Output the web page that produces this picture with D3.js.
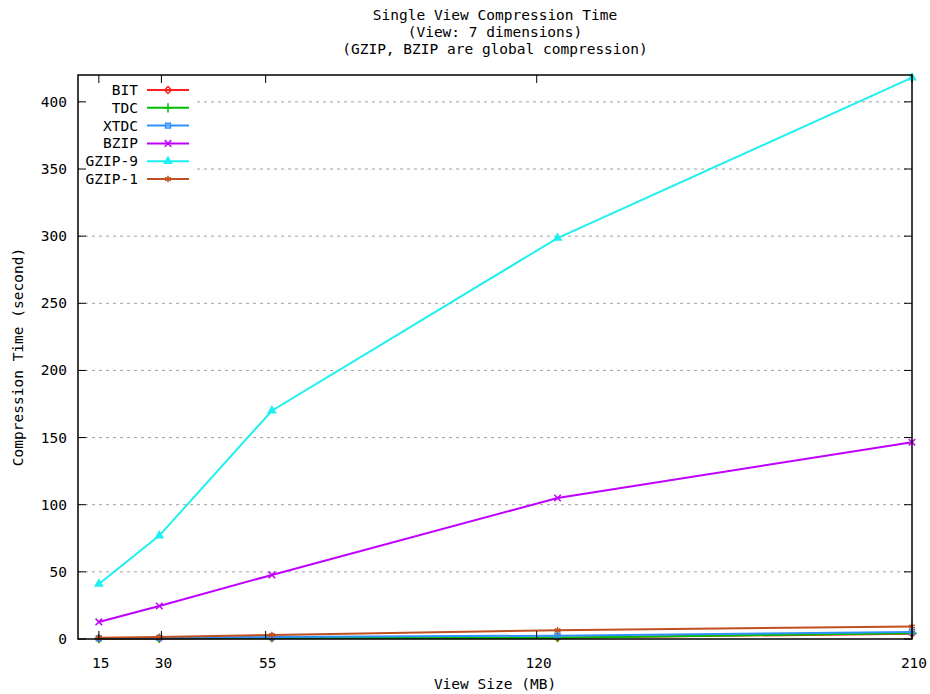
<!DOCTYPE html>
<html>
<head>
<meta charset="utf-8">
<script src="https://cdn.jsdelivr.net/npm/d3@7"></script>
<style>
  body { margin: 0; background: #fff; }
  svg text { font-family: "DejaVu Sans Mono", monospace; font-size: 14.5px; fill: #000; }
  .grid line { stroke: #a0a0a0; stroke-dasharray: 3,4; }
</style>
</head>
<body>
<div id="chart"></div>
<script>
// view sizes (MB) where each run was measured
const sizes = [15, 29.5, 56.5, 125, 210]
const xTicks = [15, 30, 55, 120, 210]
const yTicks = [0, 50, 100, 150, 200, 250, 300, 350, 400]

const bit = [0.2, 0.4, 0.8, 0.9, 4.0]
const tdc = [0.3, 0.5, 1.0, 1.0, 4.3]
const xtdc = [0.5, 0.8, 1.5, 2.5, 5.2]
const bzip = [12.7, 24.6, 47.7, 105, 146.5]
const gzip9 = [41, 77, 170, 298.6, 418]
const gzip1 = [1.0, 1.5, 3.0, 6.5, 9.3]

const seriesNames = ['BIT', 'TDC', 'XTDC', 'BZIP', 'GZIP-9', 'GZIP-1']
const seriesValues = [bit, tdc, xtdc, bzip, gzip9, gzip1]
const seriesColors = ['#ff2020', '#00c000', '#3090ff', '#c000ff', '#20f0f0', '#c05020']
const seriesSymbols = [d3.symbolDiamond2, d3.symbolPlus, d3.symbolSquare2, d3.symbolTimes, d3.symbolTriangle, d3.symbolAsterisk]
const filledSymbols = [false, false, false, false, true, false]

const titleLines = ['Single View Compression Time', '(View: 7 dimensions)', '(GZIP, BZIP are global compression)']

const W = 930, H = 694
const margin = {top: 75, right: 18, bottom: 55, left: 78}
const width = W - margin.left - margin.right
const height = H - margin.top - margin.bottom

const svg = d3.select('#chart').append('svg')
  .attr('width', W).attr('height', H)

const g = svg.append('g')
  .attr('transform', 'translate(' + margin.left + ',' + margin.top + ')')

const x = d3.scaleLinear().domain([10, 210]).range([0, width])
const y = d3.scaleLinear().domain([0, 420]).range([height, 0])

// horizontal dotted grid
g.append('g').attr('class', 'grid')
  .selectAll('line')
  .data(yTicks.filter((d) => d > 0))
  .join('line')
  .attr('x1', 0).attr('x2', width)
  .attr('y1', (d) => y(d)).attr('y2', (d) => y(d))

// white area behind the key
g.append('rect')
  .attr('x', 1).attr('y', 5)
  .attr('width', 116).attr('height', 112)
  .attr('fill', '#fff')

// series lines + points
const line = d3.line()
  .x((d, i) => x(sizes[i]))
  .y((d) => y(d))

const symSize = (k) => filledSymbols[k] ? 22 : 30

seriesValues.forEach((vals, k) => {
  g.append('path')
    .datum(vals)
    .attr('fill', 'none')
    .attr('stroke', seriesColors[k])
    .attr('stroke-width', 2)
    .attr('d', line)

  g.selectAll('.pt' + k)
    .data(vals)
    .join('path')
    .attr('class', 'pt' + k)
    .attr('transform', (d, i) => 'translate(' + x(sizes[i]) + ',' + y(d) + ')')
    .attr('d', d3.symbol().type(seriesSymbols[k]).size(symSize(k)))
    .attr('fill', filledSymbols[k] ? seriesColors[k] : 'none')
    .attr('stroke', seriesColors[k])
    .attr('stroke-width', 1.5)
})

// axes: ticks inward, mirrored on top and right
const tickLen = 8
const xAxis = g.append('g').attr('transform', 'translate(0,' + height + ')')
xAxis.selectAll('line')
  .data(xTicks)
  .join('line')
  .attr('x1', (d) => x(d)).attr('x2', (d) => x(d))
  .attr('y1', 0).attr('y2', -tickLen)
  .attr('stroke', '#000')
xAxis.selectAll('text')
  .data(xTicks)
  .join('text')
  .attr('x', (d) => x(d) + 2)
  .attr('y', 29)
  .attr('text-anchor', 'middle')
  .text((d) => d)

g.append('g').selectAll('line')
  .data(xTicks)
  .join('line')
  .attr('x1', (d) => x(d)).attr('x2', (d) => x(d))
  .attr('y1', 0).attr('y2', tickLen)
  .attr('stroke', '#000')

const yAxis = g.append('g')
yAxis.selectAll('line')
  .data(yTicks)
  .join('line')
  .attr('x1', 0).attr('x2', tickLen)
  .attr('y1', (d) => y(d)).attr('y2', (d) => y(d))
  .attr('stroke', '#000')
yAxis.selectAll('text')
  .data(yTicks)
  .join('text')
  .attr('x', -11)
  .attr('y', (d) => y(d) + 5)
  .attr('text-anchor', 'end')
  .text((d) => d)

g.append('g').selectAll('line')
  .data(yTicks)
  .join('line')
  .attr('x1', width - tickLen).attr('x2', width)
  .attr('y1', (d) => y(d)).attr('y2', (d) => y(d))
  .attr('stroke', '#000')

// border box
g.append('rect')
  .attr('x', 0).attr('y', 0)
  .attr('width', width).attr('height', height)
  .attr('fill', 'none')
  .attr('stroke', '#000')
  .attr('stroke-width', 1.5)

// key
const key = g.append('g').attr('transform', 'translate(0,15)')
seriesNames.forEach((name, k) => {
  const row = key.append('g').attr('transform', 'translate(0,' + k * 17.8 + ')')
  row.append('text')
    .attr('x', 60).attr('y', 5)
    .attr('text-anchor', 'end')
    .text(name)
  row.append('line')
    .attr('x1', 69).attr('x2', 111)
    .attr('y1', 0).attr('y2', 0)
    .attr('stroke', seriesColors[k])
    .attr('stroke-width', 2)
  row.append('path')
    .attr('transform', 'translate(90,0)')
    .attr('d', d3.symbol().type(seriesSymbols[k]).size(symSize(k)))
    .attr('fill', filledSymbols[k] ? seriesColors[k] : 'none')
    .attr('stroke', seriesColors[k])
    .attr('stroke-width', 1.5)
})

// titles
svg.append('g').selectAll('text')
  .data(titleLines)
  .join('text')
  .attr('x', 495)
  .attr('y', (d, i) => 20 + i * 17)
  .attr('text-anchor', 'middle')
  .text((d) => d)

svg.append('text')
  .attr('x', 495).attr('y', 689)
  .attr('text-anchor', 'middle')
  .text('View Size (MB)')

svg.append('text')
  .attr('transform', 'translate(23,357) rotate(-90)')
  .attr('text-anchor', 'middle')
  .text('Compression Time (second)')
</script>
</body>
</html>
